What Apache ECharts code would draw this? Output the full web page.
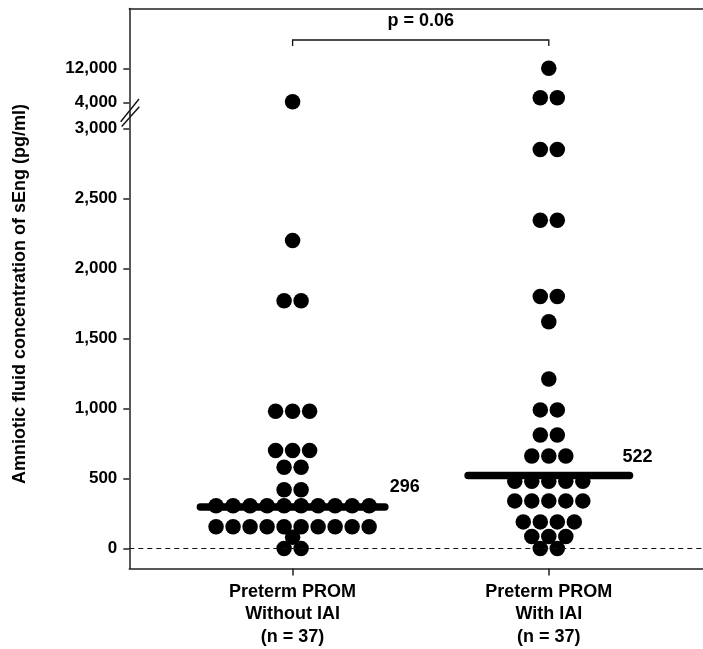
<!DOCTYPE html>
<html>
<head>
<meta charset="utf-8">
<script src="https://cdn.jsdelivr.net/npm/echarts@6/dist/echarts.min.js"></script>
<style>
  html, body { margin: 0; padding: 0; background: #fff; }
  #chart { width: 703px; height: 649px; }
</style>
</head>
<body>
<div id="chart"></div>
<script>
// groups on the x axis
var groups = ["Preterm PROM\nWithout IAI\n(n = 37)", "Preterm PROM\nWith IAI\n(n = 37)"];
// sEng values (pg/ml)
var withoutIAI = [4200, 2200, 1770, 1770, 980, 980, 980, 700, 700, 700, 580, 580, 420, 420,
  305, 305, 305, 305, 305, 305, 305, 305, 305, 305,
  155, 155, 155, 155, 155, 155, 155, 155, 155, 155,
  80, 0, 0];
var withIAI = [12000, 5150, 5150, 2850, 2850, 2345, 2345, 1800, 1800, 1620, 1210, 990, 990,
  810, 810, 660, 660, 660, 480, 480, 480, 480, 480, 340, 340, 340, 340, 340,
  190, 190, 190, 190, 85, 85, 85, 0, 0];
var medians = [296, 522];
var pLabel = "p = 0.06";
var lowerTicks = [0, 500, 1000, 1500, 2000, 2500, 3000];
var upperTicks = [4000, 12000];
var breakAt = 3500; // values above go to the upper panel

// style constants
var FONT = "Liberation Sans, Arial, sans-serif";
var DOT = 15.5;
var STEP = 0.0664;          // horizontal distance between dots in a row (x units)
var MED_HALF = [0.360, 0.315];
var AXIS_COLOR = "#222";

// lay out one group as a dot plot: equal values sit side by side, centred
function layout(values, center) {
  var count = {}, seen = {};
  values.forEach(function (v) { count[v] = (count[v] || 0) + 1; });
  var lower = [], upper = [];
  values.forEach(function (v) {
    var i = seen[v] || 0;
    seen[v] = i + 1;
    var x = center + (i - (count[v] - 1) / 2) * STEP;
    (v > breakAt ? upper : lower).push([x, v]);
  });
  return { lower: lower, upper: upper };
}
var g1 = layout(withoutIAI, 1);
var g2 = layout(withIAI, 2);

var fmt = function (v) { return Number(v).toLocaleString("en-US"); };

var xBase = {
  type: "value", min: 0.3626, max: 2.6019,
  splitLine: { show: false },
  axisLine: { show: true, onZero: false, lineStyle: { color: AXIS_COLOR, width: 1.5 } },
  axisTick: { show: false },
  axisLabel: { show: false }
};

var option = {
  backgroundColor: "#fff",
  animation: false,
  grid: [
    { left: 129.3, right: 0, top: 8.5, height: 106 },
    { left: 129.3, right: 0, top: 114.5, height: 454 }
  ],
  xAxis: [
    Object.assign({}, xBase, { gridIndex: 0, position: "top" }),
    Object.assign({}, xBase, {
      gridIndex: 1, position: "bottom",
      axisTick: { show: true, length: 7, lineStyle: { color: AXIS_COLOR, width: 1.5 }, customValues: [1, 2] },
      axisLabel: {
        show: true, customValues: [1, 2], margin: 12, lineHeight: 22.5,
        color: "#000", fontFamily: FONT, fontWeight: "bold", fontSize: 18,
        formatter: function (v) { return groups[Math.round(v) - 1]; }
      }
    })
  ],
  yAxis: [
    {
      type: "value", gridIndex: 0, min: 1256, max: 25900,
      splitLine: { show: false },
      axisLine: { show: true, lineStyle: { color: AXIS_COLOR, width: 1.5 } },
      axisTick: { show: true, length: 6, customValues: upperTicks, lineStyle: { color: AXIS_COLOR, width: 1.5 } },
      axisLabel: { customValues: upperTicks, formatter: fmt, margin: 12, color: "#000",
        fontFamily: FONT, fontWeight: "bold", fontSize: 17 }
    },
    {
      type: "value", gridIndex: 1, min: -143, max: 3100,
      splitLine: { show: false },
      axisLine: { show: true, lineStyle: { color: AXIS_COLOR, width: 1.5 } },
      axisTick: { show: true, length: 6, customValues: lowerTicks, lineStyle: { color: AXIS_COLOR, width: 1.5 } },
      axisLabel: { customValues: lowerTicks, formatter: fmt, margin: 12, color: "#000",
        fontFamily: FONT, fontWeight: "bold", fontSize: 17 }
    }
  ],
  series: [
    {
      type: "line", xAxisIndex: 1, yAxisIndex: 1, data: [], z: 1,
      markLine: {
        silent: true, symbol: ["none", "none"], label: { show: false },
        lineStyle: { color: "#111", width: 1.2, type: [5, 4] },
        data: [{ yAxis: 0 }]
      }
    },
    { type: "scatter", xAxisIndex: 1, yAxisIndex: 1, data: g1.lower.concat(g2.lower),
      symbolSize: DOT, itemStyle: { color: "#000", opacity: 1 }, z: 3 },
    { type: "scatter", xAxisIndex: 0, yAxisIndex: 0, data: g1.upper.concat(g2.upper),
      symbolSize: DOT, itemStyle: { color: "#000", opacity: 1 }, z: 3 }
  ]
};

// median bars with their labels
var labelOffsets = [[5, -20], [-7, -18]];
medians.forEach(function (m, i) {
  var c = i + 1;
  option.series.push({
    type: "line", xAxisIndex: 1, yAxisIndex: 1, z: 4,
    data: [[c - MED_HALF[i], m], [c + MED_HALF[i], m]],
    showSymbol: false, symbol: "none",
    lineStyle: { color: "#000", width: 7.5, cap: "round" },
    endLabel: {
      show: true, formatter: String(m), distance: 0, offset: labelOffsets[i],
      align: "left", verticalAlign: "middle",
      color: "#000", fontFamily: FONT, fontWeight: "bold", fontSize: 18
    }
  });
});

var chart = echarts.init(document.getElementById("chart"), null, { renderer: "canvas" });
chart.setOption(option);

// annotations: p-value bracket, axis break marks, y axis title
var x1 = chart.convertToPixel({ xAxisIndex: 1 }, 1);
var x2 = chart.convertToPixel({ xAxisIndex: 1 }, 2);
chart.setOption({
  graphic: [
    { type: "polyline", shape: { points: [[x1, 46], [x1, 40], [x2, 40], [x2, 46]] },
      style: { stroke: "#111", lineWidth: 1.3, fill: null } },
    { type: "text", x: (x1 + x2) / 2, y: 21,
      style: { text: pLabel, fill: "#000", font: "bold 18px " + FONT, align: "center", verticalAlign: "middle" } },
    { type: "line", shape: { x1: 120.7, y1: 121.7, x2: 139, y2: 99 }, style: { stroke: "#111", lineWidth: 1.4 } },
    { type: "line", shape: { x1: 121.7, y1: 126.5, x2: 139.3, y2: 106.7 }, style: { stroke: "#111", lineWidth: 1.4 } },
    { type: "text", x: 20, y: 294, rotation: Math.PI / 2,
      style: { text: "Amniotic fluid concentration of sEng (pg/ml)", fill: "#000",
        font: "bold 18px " + FONT, align: "center", verticalAlign: "middle" } }
  ]
});
</script>
</body>
</html>
